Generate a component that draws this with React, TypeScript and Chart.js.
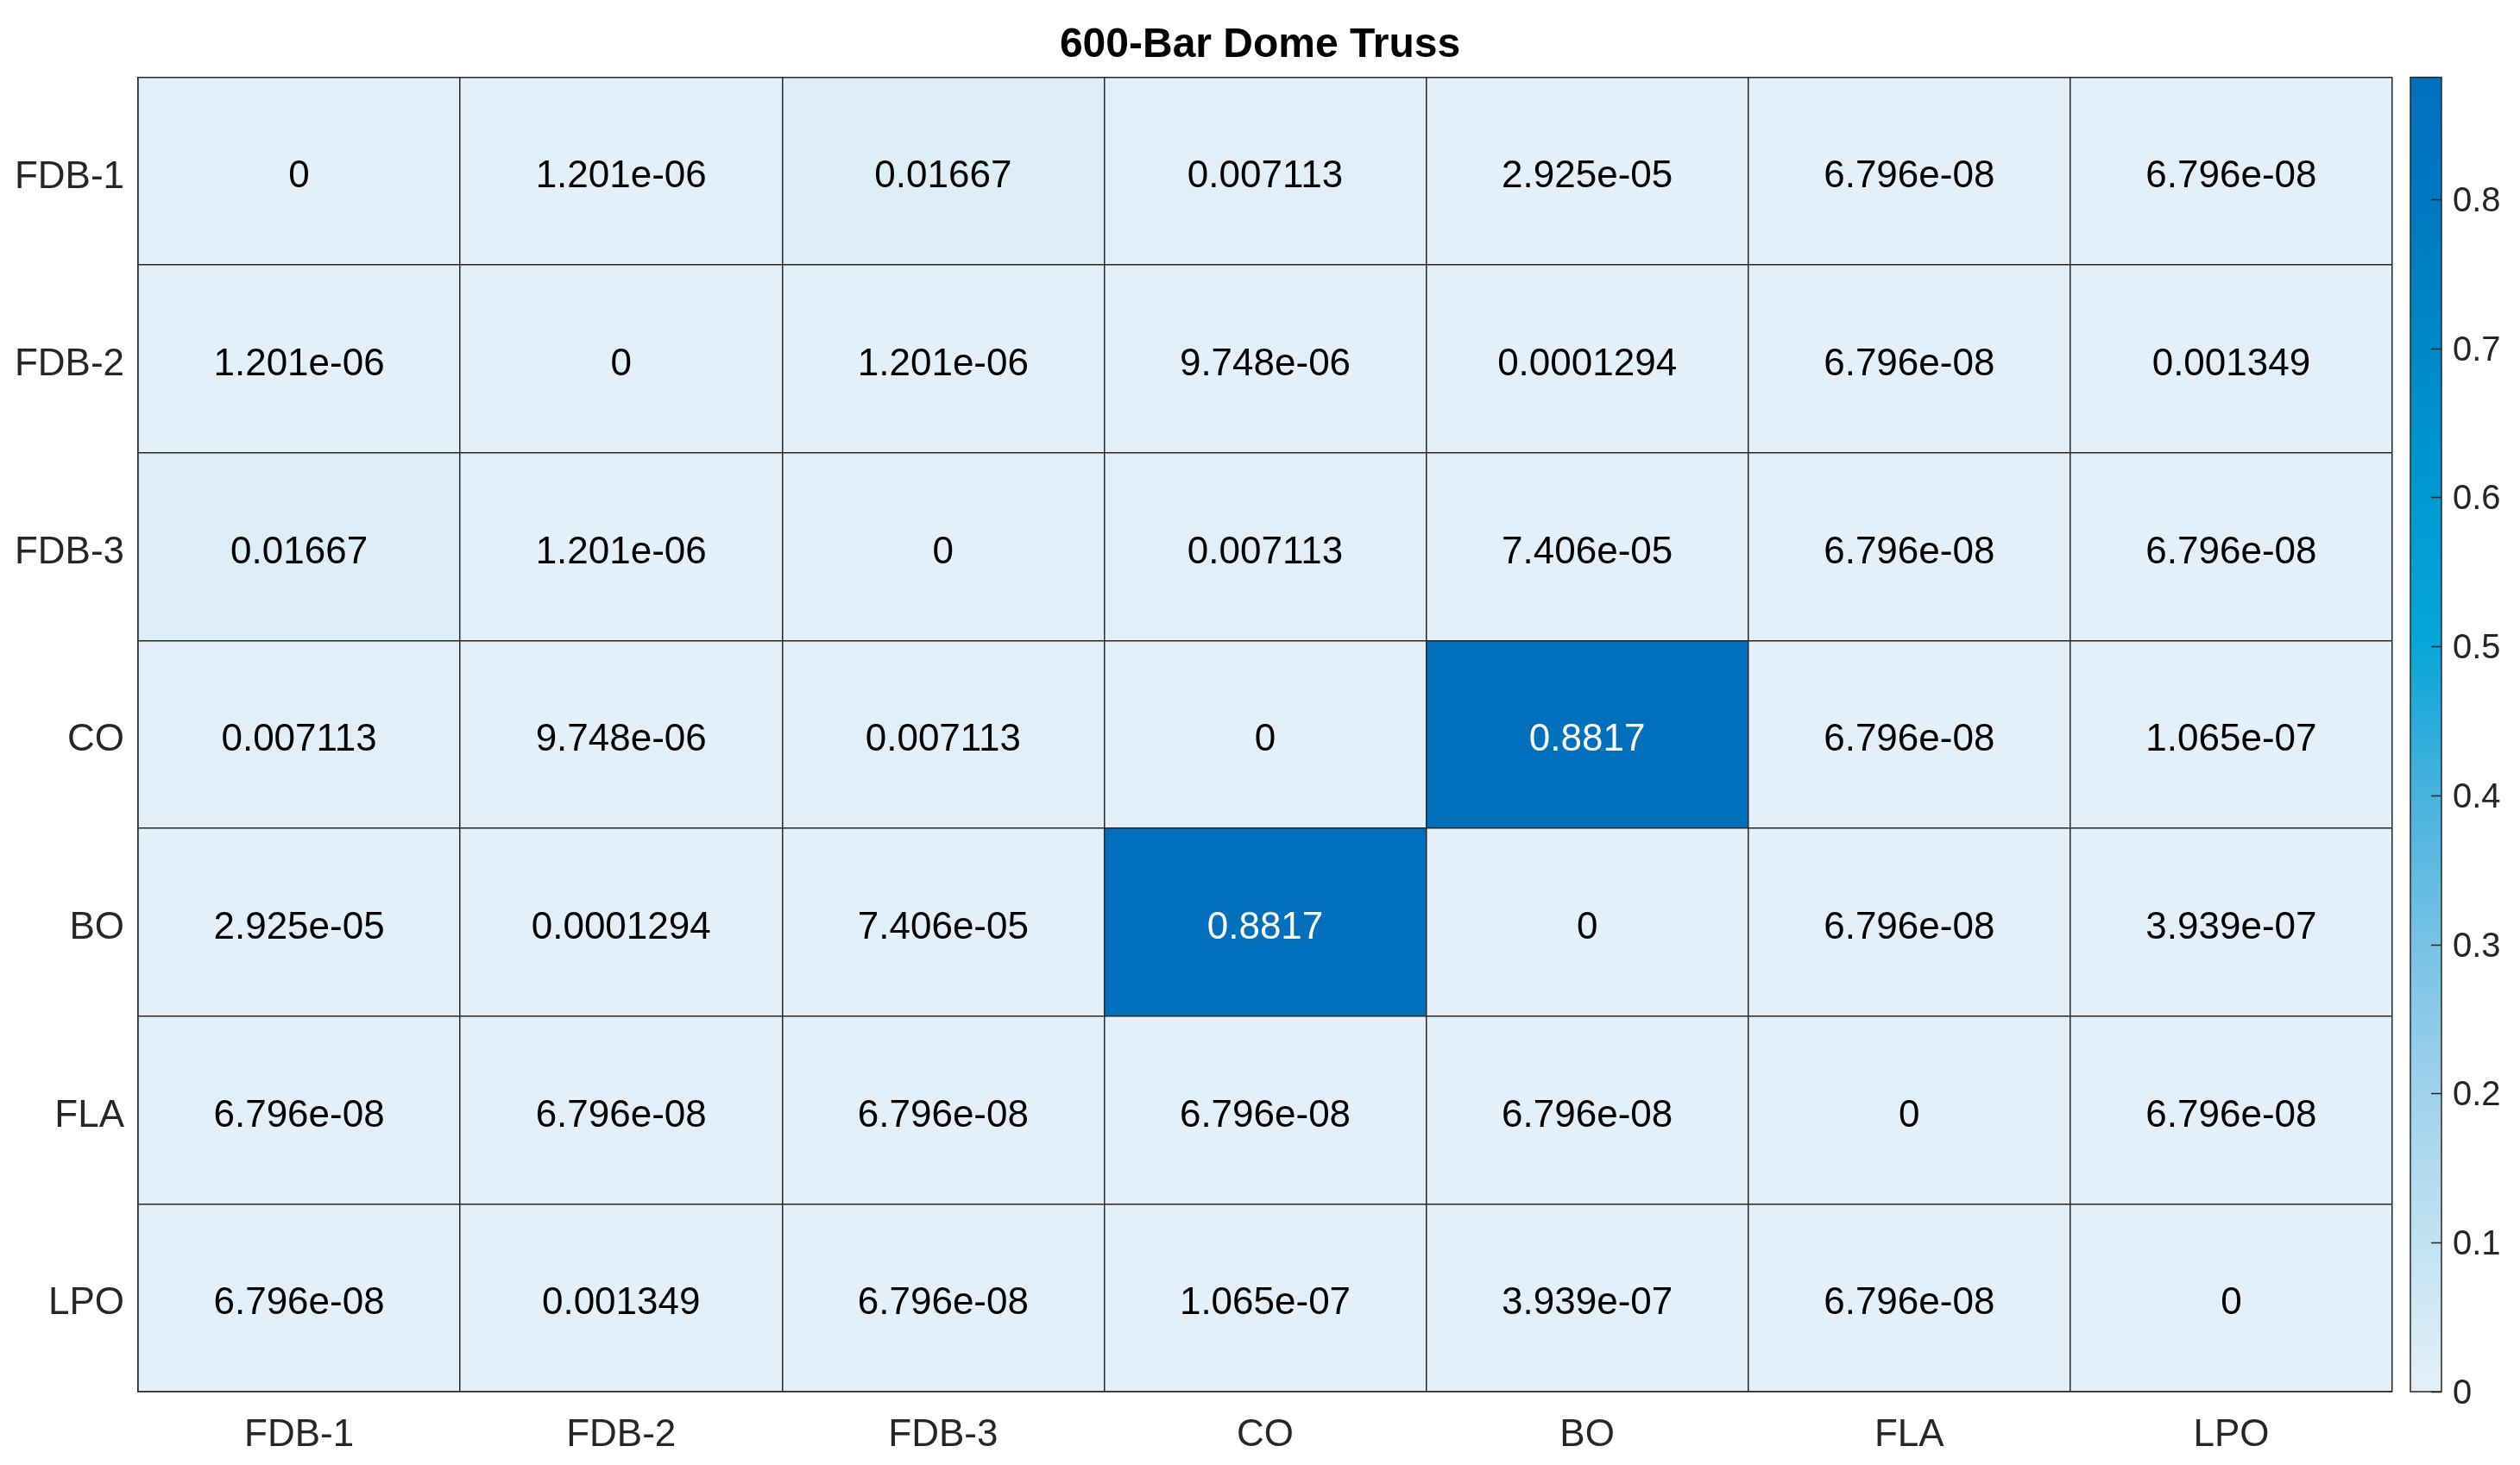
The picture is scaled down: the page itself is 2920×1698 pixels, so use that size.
import React, { useEffect, useRef } from "react";
import { Chart, registerables } from "chart.js";

Chart.register(...registerables);

// ---------------- data ----------------
const TITLE = "600-Bar Dome Truss";
const ROW_LABELS = ["FDB-1", "FDB-2", "FDB-3", "CO", "BO", "FLA", "LPO"];
const COL_LABELS = ["FDB-1", "FDB-2", "FDB-3", "CO", "BO", "FLA", "LPO"];

const ROW_FDB1 = [0, 1.201e-6, 0.01667, 0.007113, 2.925e-5, 6.796e-8, 6.796e-8];
const ROW_FDB2 = [1.201e-6, 0, 1.201e-6, 9.748e-6, 0.0001294, 6.796e-8, 0.001349];
const ROW_FDB3 = [0.01667, 1.201e-6, 0, 0.007113, 7.406e-5, 6.796e-8, 6.796e-8];
const ROW_CO = [0.007113, 9.748e-6, 0.007113, 0, 0.8817, 6.796e-8, 1.065e-7];
const ROW_BO = [2.925e-5, 0.0001294, 7.406e-5, 0.8817, 0, 6.796e-8, 3.939e-7];
const ROW_FLA = [6.796e-8, 6.796e-8, 6.796e-8, 6.796e-8, 6.796e-8, 0, 6.796e-8];
const ROW_LPO = [6.796e-8, 0.001349, 6.796e-8, 1.065e-7, 3.939e-7, 6.796e-8, 0];

const MATRIX = [ROW_FDB1, ROW_FDB2, ROW_FDB3, ROW_CO, ROW_BO, ROW_FLA, ROW_LPO];

const COLORBAR_MIN = 0;
const COLORBAR_MAX = 0.8817;
const COLORBAR_TICKS = [0, 0.1, 0.2, 0.3, 0.4, 0.5, 0.6, 0.7, 0.8];

// ---------------- style ----------------
const WIDTH = 2920;
const HEIGHT = 1698;
const FONT = "'Liberation Sans', Arial, Helvetica, sans-serif";
const LINE_COLOR = "#262626";
// colormap stops: [fraction, r, g, b]
const COLORMAP: number[][] = [
  [0.0, 228, 240, 249],
  [0.113, 194, 226, 242],
  [0.227, 160, 210, 236],
  [0.34, 120, 194, 230],
  [0.454, 72, 178, 222],
  [0.567, 8, 166, 216],
  [0.68, 0, 154, 210],
  [0.794, 0, 136, 200],
  [0.907, 0, 120, 193],
  [1.0, 0, 112, 189],
];

function colorAt(frac: number): number[] {
  const f = Math.max(0, Math.min(1, frac));
  for (let k = 0; k < COLORMAP.length - 1; k++) {
    const a = COLORMAP[k];
    const b = COLORMAP[k + 1];
    if (f >= a[0] && f <= b[0]) {
      const t = (f - a[0]) / (b[0] - a[0]);
      return [a[1] + (b[1] - a[1]) * t, a[2] + (b[2] - a[2]) * t, a[3] + (b[3] - a[3]) * t];
    }
  }
  const l = COLORMAP[COLORMAP.length - 1];
  return [l[1], l[2], l[3]];
}

function rgb(c: number[]) {
  return `rgb(${Math.round(c[0])},${Math.round(c[1])},${Math.round(c[2])})`;
}

function fmt4g(v: number): string {
  if (v === 0) return "0";
  const e = Math.floor(Math.log10(Math.abs(v)));
  if (e < -4 || e >= 4) {
    const s = v.toExponential(3);
    const [m, ex] = s.split("e");
    const sign = ex[0] === "-" ? "-" : "+";
    const digits = ex.replace(/^[+-]/, "").padStart(2, "0");
    return `${m}e${sign}${digits}`;
  }
  let s = v.toPrecision(4);
  if (s.indexOf(".") >= 0) s = s.replace(/0+$/, "").replace(/\.$/, "");
  return s;
}

function zeroPadding(s: any) {
  s.paddingTop = 0;
  s.paddingBottom = 0;
  s.paddingLeft = 0;
  s.paddingRight = 0;
}

const heatPlugin = {
  id: "heatCells",
  beforeDatasetsDraw(chart: any) {
    const { ctx } = chart;
    const xs = chart.scales.x;
    const ys = chart.scales.y;
    ctx.save();
    MATRIX.forEach((row, i) => {
      row.forEach((v, j) => {
        const x0 = xs.getPixelForValue(j - 0.5);
        const x1 = xs.getPixelForValue(j + 0.5);
        const y0 = ys.getPixelForValue(i - 0.5);
        const y1 = ys.getPixelForValue(i + 0.5);
        const c = colorAt((v - COLORBAR_MIN) / (COLORBAR_MAX - COLORBAR_MIN));
        ctx.fillStyle = rgb(c);
        ctx.fillRect(
          Math.min(x0, x1) - 0.5,
          Math.min(y0, y1) - 0.5,
          Math.abs(x1 - x0) + 1,
          Math.abs(y1 - y0) + 1
        );
      });
    });
    MATRIX.forEach((row, i) => {
      row.forEach((v, j) => {
        const cx = xs.getPixelForValue(j);
        const cy = ys.getPixelForValue(i);
        const c = colorAt((v - COLORBAR_MIN) / (COLORBAR_MAX - COLORBAR_MIN));
        const lum = (0.299 * c[0] + 0.587 * c[1] + 0.114 * c[2]) / 255;
        ctx.fillStyle = lum < 0.5 ? "#ffffff" : "#000000";
        ctx.font = `44px ${FONT}`;
        ctx.textAlign = "center";
        ctx.textBaseline = "alphabetic";
        ctx.fillText(fmt4g(v), cx, cy + 19);
      });
    });
    ctx.restore();
  },
  afterDraw(chart: any) {
    const { ctx, chartArea } = chart;
    const cb = chart.scales.cb;
    const left = chartArea.right + 21;
    const w = 36;
    const top = cb.getPixelForValue(COLORBAR_MAX);
    const bottom = cb.getPixelForValue(COLORBAR_MIN);
    ctx.save();
    const g = ctx.createLinearGradient(0, bottom, 0, top);
    COLORMAP.forEach((s) => g.addColorStop(s[0], rgb([s[1], s[2], s[3]])));
    ctx.fillStyle = g;
    ctx.fillRect(left, top, w, bottom - top);
    ctx.strokeStyle = LINE_COLOR;
    ctx.lineWidth = 1.5;
    ctx.strokeRect(left, top, w, bottom - top);
    ctx.beginPath();
    COLORBAR_TICKS.forEach((t) => {
      const py = Math.round(cb.getPixelForValue(t)) + 0.5;
      ctx.moveTo(left + w - 12, py);
      ctx.lineTo(left + w, py);
    });
    ctx.stroke();
    ctx.restore();
  },
};

export default function App() {
  const ref = useRef<HTMLCanvasElement | null>(null);

  useEffect(() => {
    document.body.style.margin = "0";
    const canvas = ref.current;
    if (!canvas) return;
    const points = MATRIX.flatMap((row, i) =>
      row.map((v, j) => ({ x: COL_LABELS[j], y: ROW_LABELS[i], v }))
    );
    const chart = new Chart(canvas, {
      type: "scatter",
      data: {
        datasets: [
          {
            label: TITLE,
            data: points as any,
            pointRadius: 0,
            pointHoverRadius: 0,
          },
        ],
      },
      plugins: [heatPlugin],
      options: {
        animation: false,
        responsive: false,
        maintainAspectRatio: false,
        devicePixelRatio: 1,
        events: [],
        layout: { padding: 0 },
        plugins: {
          legend: { display: false },
          tooltip: { enabled: false },
          title: {
            display: true,
            text: TITLE,
            color: "#000000",
            font: { family: FONT, size: 48, weight: "bold" },
            padding: { top: 24, bottom: 8 },
          },
        },
        scales: {
          x: {
            type: "category",
            labels: COL_LABELS,
            offset: true,
            position: "bottom",
            grid: { offset: true, color: LINE_COLOR, lineWidth: 1.5, drawTicks: false, z: 1 },
            border: { display: true, color: LINE_COLOR, width: 1.5, z: 1 },
            ticks: {
              color: "#262626",
              font: { family: FONT, size: 44 },
              padding: 24,
              maxRotation: 0,
              autoSkip: false,
            },
            afterFit: (s: any) => {
              s.height = 85;
              zeroPadding(s);
            },
          },
          y: {
            type: "category",
            labels: ROW_LABELS,
            offset: true,
            position: "left",
            grid: { offset: true, color: LINE_COLOR, lineWidth: 1.5, drawTicks: false, z: 1 },
            border: { display: true, color: LINE_COLOR, width: 1.5, z: 1 },
            ticks: {
              color: "#262626",
              font: { family: FONT, size: 44 },
              padding: 16,
              labelOffset: 7,
              autoSkip: false,
            },
            afterFit: (s: any) => {
              s.width = 160;
              zeroPadding(s);
            },
          },
          cb: {
            type: "linear",
            position: "right",
            min: COLORBAR_MIN,
            max: COLORBAR_MAX,
            grid: { display: false, drawTicks: false },
            border: { display: false },
            ticks: {
              color: "#262626",
              font: { family: FONT, size: 40 },
              padding: 70,
              labelOffset: 3,
              callback: (v: any) => (Number(v) === 0 ? "0" : Number(v).toFixed(1)),
            },
            afterBuildTicks: (s: any) => {
              s.ticks = COLORBAR_TICKS.map((t) => ({ value: t }));
            },
            afterFit: (s: any) => {
              s.width = 148;
              zeroPadding(s);
            },
          },
        },
      } as any,
    });
    return () => chart.destroy();
  }, []);

  return (
    <div
      style={{
        position: "fixed",
        left: 0,
        top: 0,
        width: `${WIDTH}px`,
        height: `${HEIGHT}px`,
        background: "#ffffff",
      }}
    >
      <canvas
        ref={ref}
        width={WIDTH}
        height={HEIGHT}
        style={{ display: "block", width: `${WIDTH}px`, height: `${HEIGHT}px` }}
      />
    </div>
  );
}
